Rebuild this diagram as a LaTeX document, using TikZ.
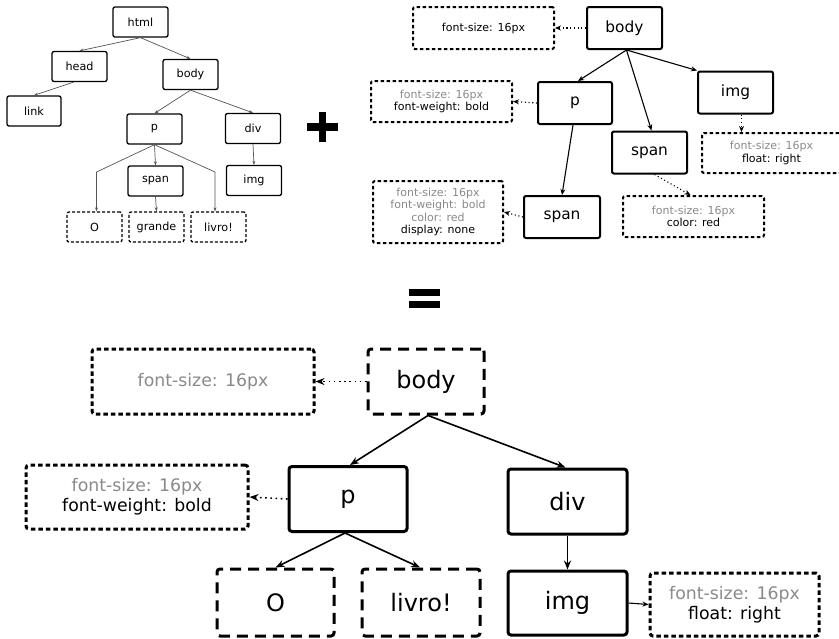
\documentclass[tikz,border=0pt]{standalone}
\usepackage{fontspec}
\setmainfont{DejaVu Sans}
\usetikzlibrary{arrows.meta}
\definecolor{ghost}{HTML}{8A8A8A}
\definecolor{edgegray}{HTML}{555555}
\tikzset{
  tlnode/.style={draw, line width=1.3pt, rounded corners=2pt, minimum width=55pt, minimum height=30pt, inner sep=0pt, font=\fontsize{11.2}{13}\selectfont},
  tldash/.style={dash pattern=on 3pt off 2pt},
  tledge/.style={draw=edgegray, line width=0.7pt, -{Stealth[length=4pt,width=3pt]}},
  trnode/.style={draw, line width=2pt, rounded corners=2pt, minimum width=75pt, minimum height=42pt, inner sep=0pt, font=\fontsize{15.4}{18}\selectfont},
  trstyle/.style={draw, line width=2pt, rounded corners=2pt, dash pattern=on 3.5pt off 2.5pt, inner sep=0pt, align=center, font=\fontsize{11}{12.3}\selectfont},
  tredge/.style={line width=1.1pt, -{Stealth[length=6pt,width=5pt]}},
  trdot/.style={line width=1.1pt, dash pattern=on 1.1pt off 2.6pt, -{Stealth[length=6pt,width=5pt]}},
  bnode/.style={draw, line width=3pt, rounded corners=3pt, minimum width=118pt, minimum height=65pt, inner sep=0pt, font=\fontsize{24}{28}\selectfont},
  bdash/.style={dash pattern=on 11pt off 7pt},
  bstyle/.style={draw, line width=3pt, rounded corners=3pt, dash pattern=on 4.5pt off 3pt, inner sep=0pt, align=center, font=\fontsize{17.3}{20}\selectfont},
  bedge/.style={line width=1.6pt, -{Stealth[length=9pt,width=7pt]}},
  bdot/.style={line width=1.6pt, dash pattern=on 1.6pt off 3.6pt, -{Stealth[length=9pt,width=7pt]}},
}
\begin{document}
\begin{tikzpicture}[x=1pt,y=-1pt]
\useasboundingbox (0,0) rectangle (839,638);
\fill[white] (0,0) rectangle (839,638);
% ---------- top-left DOM tree ----------
\node[tlnode] (html) at (140.5,22) {html};
\node[tlnode] (head) at (79.5,66.5) {head};
\node[tlnode] (tbody) at (190.5,74.5) {body};
\node[tlnode, minimum width=54pt] (link) at (34,111) {link};
\node[tlnode] (tp) at (154.5,129) {p};
\node[tlnode] (tdiv) at (253,128.5) {div};
\node[tlnode] (tspan) at (155.5,181) {span};
\node[tlnode] (timg) at (254,180.5) {img};
\node[tlnode, tldash] (tO) at (94.5,227) {O};
\node[tlnode, tldash] (tgr) at (156.5,227) {grande};
\node[tlnode, tldash] (tli) at (218.5,227) {livro!};
\coordinate (cO) at (96.5,172);
\coordinate (cL) at (215,172);
\draw[tledge] (html.south) -- (head.north);
\draw[tledge] (html.south) -- (tbody.north);
\draw[tledge] ([xshift=-6pt]head.south) -- (link.north);
\draw[tledge] (tbody.south) -- (tp.north);
\draw[tledge] (tbody.south) -- (tdiv.north);
\draw[tledge] (tp.south) -- (tspan.north);
\draw[tledge] (tp.south) -- (cO) -- (cO |- tO.north);
\draw[tledge] (tp.south) -- (cL) -- (cL |- tli.north);
\draw[tledge] (tspan.south) -- (tgr.north);
\draw[tledge] (tdiv.south) -- (timg.north);
% ---------- plus ----------
\fill (319,112) rectangle (326,142);
\fill (307,123) rectangle (338,131);
% ---------- top-right styled tree ----------
\node[trnode] (rbody) at (624.5,28) {body};
\node[trstyle, minimum width=141pt, minimum height=42pt] (sbody) at (483.5,28) {font-size: 16px};
\node[trnode, minimum width=74pt] (rp) at (575,103) {p};
\node[trstyle, minimum width=141pt, minimum height=41pt] (sp) at (441.5,101.5) {\textcolor{ghost}{font-size: 16px}\\font-weight: bold};
\node[trnode] (rimg) at (735.5,92.5) {img};
\node[trstyle, minimum width=139pt, minimum height=40pt] (simg) at (771.5,153) {\textcolor{ghost}{font-size: 16px}\\float: right};
\node[trnode] (rspan) at (649.5,152.5) {span};
\node[trstyle, minimum width=141pt, minimum height=41pt] (sspan) at (693.5,216.5) {\textcolor{ghost}{font-size: 16px}\\color: red};
\node[trnode, minimum width=76pt] (rspan2) at (562,217) {span};
\node[trstyle, minimum width=130pt, minimum height=62pt] (sspan2) at (438,212) {\textcolor{ghost}{font-size: 16px}\\\textcolor{ghost}{font-weight: bold}\\\textcolor{ghost}{color: red}\\display: none};
\draw[trdot] (rbody.west) -- (sbody.east);
\draw[tredge] ([xshift=2pt]rbody.south) -- ([xshift=3pt]rp.north);
\draw[tredge] ([xshift=2pt]rbody.south) -- ([xshift=2pt]rspan.north);
\draw[tredge] ([xshift=2pt]rbody.south) -- (rimg.north west);
\draw[trdot] (rp.west) -- (sp.east);
\draw[tredge] ([xshift=-2pt]rp.south) -- (rspan2.north);
\draw[trdot] ([xshift=6pt]rimg.south) -- ([xshift=6pt]rimg.south |- simg.north);
\draw[trdot] ([xshift=5pt]rspan.south) -- ([xshift=-3pt]sspan.north);
\draw[trdot] (rspan2.west) -- (sspan2.east);
% ---------- equals ----------
\fill (409,289) rectangle (440,296);
\fill (409,301) rectangle (440,308);
% ---------- bottom result tree ----------
\node[bnode, bdash, minimum width=116pt] (bbody) at (426,381.5) {body};
\node[bstyle, minimum width=222pt, minimum height=65pt, text=ghost] (sbb) at (203,381.5) {font-size: 16px};
\node[bnode] (bp) at (348,499) {p};
\node[bstyle, minimum width=222pt, minimum height=64pt] (sbp) at (137,497) {\textcolor{ghost}{font-size: 16px}\\font-weight: bold};
\node[bnode, minimum width=119pt] (bdiv) at (567.5,501.5) {div};
\node[bnode, bdash, minimum width=117pt, minimum height=67pt] (bO) at (275.5,602.5) {O};
\node[bnode, bdash, minimum width=118pt, minimum height=67pt] (bli) at (421,602.5) {livro!};
\node[bnode, minimum width=119pt, minimum height=64pt] (bimg) at (567.5,603) {img};
\node[bstyle, minimum width=169pt, minimum height=63pt] (sbi) at (734.5,604.5) {\textcolor{ghost}{font-size: 16px}\\float: right};
\draw[bdot] (bbody.west) -- (sbb.east);
\draw[bedge] ([xshift=2pt]bbody.south) -- ([xshift=2pt]bp.north);
\draw[bedge] ([xshift=2pt]bbody.south) -- ([xshift=-2pt]bdiv.north);
\draw[bdot] (bp.west) -- (sbp.east);
\draw[bedge] ([xshift=-3pt]bp.south) -- (bO.north);
\draw[bedge] ([xshift=-3pt]bp.south) -- ([xshift=-1pt]bli.north);
\draw[bedge] (bdiv.south) -- (bimg.north);
\draw[bedge, line width=1.1pt, -{Stealth[length=6pt,width=5pt]}] (bimg.east) -- (sbi.west);
\end{tikzpicture}
\end{document}
